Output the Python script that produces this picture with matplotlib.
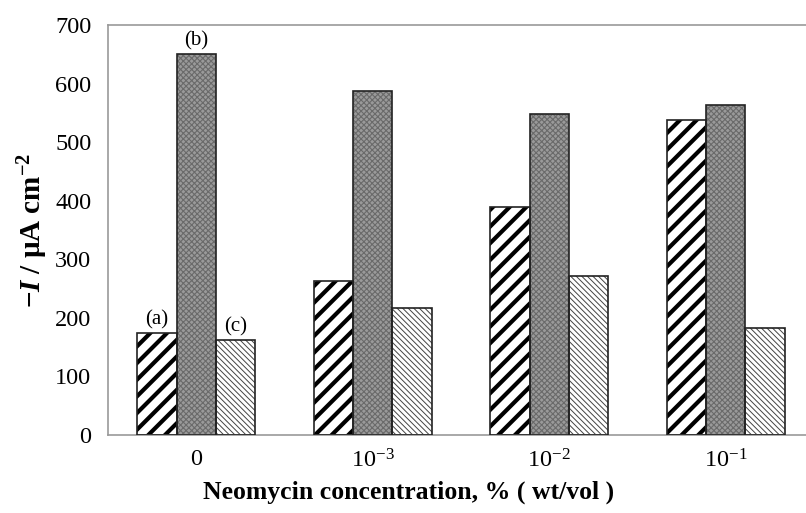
import matplotlib
matplotlib.use('Agg')
import matplotlib.pyplot as plt
import numpy as np

plt.rcParams['font.family'] = ['Liberation Serif', 'DejaVu Serif']
plt.rcParams['mathtext.fontset'] = 'custom'
plt.rcParams['mathtext.rm'] = 'Liberation Serif'
plt.rcParams['mathtext.it'] = 'Liberation Serif:italic'
plt.rcParams['mathtext.bf'] = 'Liberation Serif:bold'
plt.rcParams['mathtext.bfit'] = 'Liberation Serif:bold:italic'

categories = ['0', r'$10^{-3}$', r'$10^{-2}$', r'$10^{-1}$']
series_a = [174, 263, 390, 538]
series_b = [650, 587, 548, 563]
series_c = [162, 217, 272, 183]
bar_labels = ['(a)', '(b)', '(c)']


def hatched_bars(ax, x, heights, width, face, hatch, hcolor, hlw):
    with plt.rc_context({'hatch.linewidth': hlw}):
        ax.bar(x, heights, width, color=face, edgecolor=hcolor, hatch=hatch, linewidth=0, zorder=2)
    ax.bar(x, heights, width, fill=False, edgecolor='#222222', linewidth=1.2, zorder=3)


def main():
    fig = plt.figure(figsize=(8.06, 5.13), dpi=100)
    ax = fig.add_axes([0.134, 0.152, 0.876, 0.799])

    x = np.arange(len(categories))
    w = 0.223
    hatched_bars(ax, x - w, series_a, w, 'white', '//', 'black', 3.0)
    hatched_bars(ax, x, series_b, w, '#9a9a9a', 'xxxxxx', '#6a6a6a', 0.8)
    hatched_bars(ax, x + w, series_c, w, 'white', '\\\\\\\\\\\\', '#444444', 0.7)

    # labels over the first group
    for dx, val, lab in zip([-w, 0, w], [series_a[0], series_b[0], series_c[0]], bar_labels):
        ax.text(dx, val + 6, lab, ha='center', va='bottom', fontsize=15)

    ax.set_xlim(-0.5, 3.5)
    ax.set_ylim(0, 700)
    ax.set_yticks(range(0, 701, 100))
    ax.set_xticks(x)
    ax.set_xticklabels(categories)
    ax.tick_params(axis='both', length=0, labelsize=17.5)
    ax.tick_params(axis='x', pad=10)
    ax.tick_params(axis='y', pad=12)

    for side in ['left', 'top', 'bottom', 'right']:
        ax.spines[side].set_color('#999999')
        ax.spines[side].set_linewidth(1.2)

    ax.set_xlabel('Neomycin concentration, % ( wt/vol )', fontsize=18.5, fontweight='bold')
    ax.xaxis.set_label_coords(0.425, -0.11)
    ax.set_ylabel(r'$\mathbf{-}\mathbfit{I}\mathbf{\ /\ µA\ cm}^{\mathbf{-2}}$', fontsize=21, labelpad=4)

    fig.savefig('out.png', dpi=100)
    plt.close(fig)


if __name__ == '__main__':
    main()
